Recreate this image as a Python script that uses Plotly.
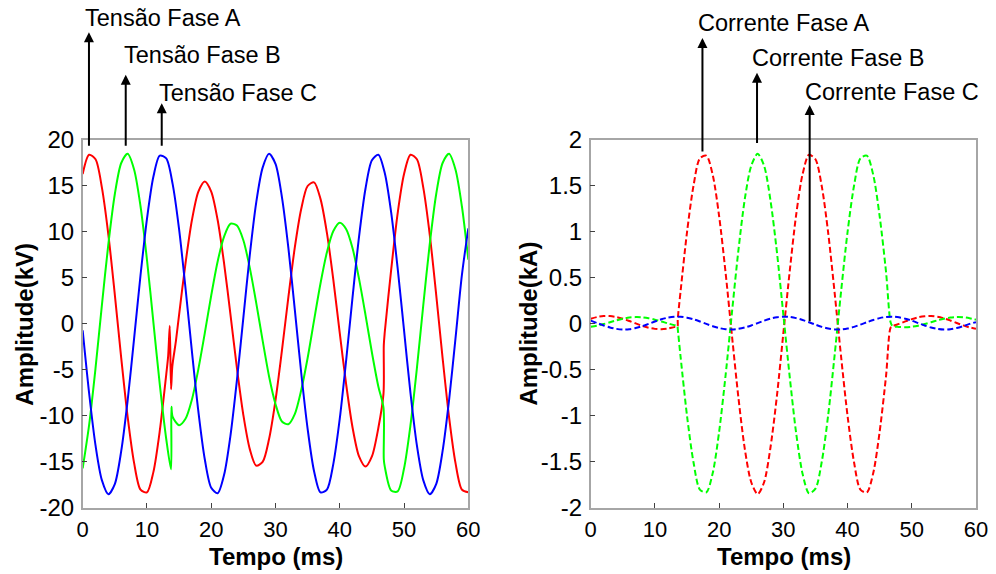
import plotly.graph_objects as go

# ---------------- Voltage (kV) ----------------
vA_t = [0,1,2,3,4,5,6,7,8,9,10,11,12,13,13.3,13.55,13.75,13.95,14.5,
        15,16,17,18,19,20,21,22,23,24,25,26,27,28,29,30,31,32,33,34,35,36,37,38,39,40,41,42,43,44,45,46,
        46.8,46.85,47,48,49,50,51,52,53,54,55,56,57,58,59,60]
vA = [16.3,18.4,17.9,14.8,9.7,3.2,-3.7,-10.1,-15.1,-18.0,-18.3,-16.1,-11.6,-5.5,-3.5,-0.2,-7.1,-4.6,-1.9,
      1.0,6.6,11.3,14.4,15.5,14.4,11.3,6.6,1.0,-4.8,-9.9,-13.6,-15.4,-15.0,-12.5,-8.3,-2.9,2.9,8.3,12.5,15.0,15.4,13.6,9.9,4.8,-1.0,-6.6,-11.3,-14.4,-15.5,-14.4,-11.3,
      -7.6,-2.3,-0.9,5.9,12.0,16.3,18.4,17.9,14.8,9.7,3.2,-3.7,-10.1,-15.1,-18.0,-18.3]

vB_t = [0,1,2,3,4,5,6,7,8,9,10,11,12,13,13.75,13.8,14,
        15,16,17,18,19,20,21,22,23,24,25,26,27,28,29,30,31,32,33,34,35,36,37,38,39,40,41,42,43,44,45,46,
        46.8,46.85,47,48,49,50,51,52,53,54,55,56,57,58,59,60]
vB = [-15.7,-11.0,-4.8,2.1,8.7,14.1,17.5,18.5,16.8,12.8,7.0,0.2,-6.6,-12.5,-15.8,-9.0,-10.1,
      -11.0,-10.3,-8.2,-4.9,-1.0,3.1,6.8,9.5,10.9,10.7,9.1,6.1,2.3,-1.8,-5.7,-8.7,-10.6,-10.9,-9.8,-7.2,-3.7,0.4,4.4,7.8,10.1,11.0,10.3,8.2,4.9,1.0,-3.1,-6.8,
      -9.1,-14.7,-15.5,-18.1,-18.2,-15.7,-11.0,-4.8,2.1,8.7,14.1,17.5,18.5,16.8,12.8,7.0]

vC_t = list(range(0, 61))
vC = [-0.7,-7.5,-13.2,-17.0,-18.5,-17.4,-13.8,-8.3,-1.6,5.3,11.4,16.0,18.3,18.0,15.2,10.3,3.9,-3.0,-9.5,-14.7,
      -17.8,-18.4,-16.4,-12.1,-6.1,0.7,7.5,13.2,17.0,18.5,17.4,13.8,8.3,1.6,-5.3,-11.4,-16.0,-18.3,-18.0,-15.2,
      -10.3,-3.9,3.0,9.5,14.7,17.8,18.4,16.4,12.1,6.1,-0.7,-7.5,-13.2,-17.0,-18.5,-17.4,-13.8,-8.3,-1.6,5.3,10.4]

# ---------------- Current (kA) ----------------
iA_t = [0,1,2,3,4,5,6,7,8,9,10,11,12,13,13.5,13.55,
        14,15,16,17,18,19,20,21,22,23,24,25,26,27,28,29,30,31,32,33,34,35,36,37,38,39,40,41,42,43,44,45,46,
        46.7,47,48,49,50,51,52,53,54,55,56,57,58,59,60]
iA = [0.057,0.076,0.086,0.086,0.076,0.057,0.033,0.006,-0.020,-0.041,-0.053,-0.057,-0.050,-0.034,-0.03,0.05,
      0.36,1.00,1.50,1.80,1.83,1.62,1.17,0.56,-0.13,-0.80,-1.36,-1.72,-1.85,-1.72,-1.34,-0.78,-0.10,0.58,1.19,1.63,1.84,1.79,1.49,0.98,0.33,-0.36,-1.00,-1.50,-1.80,-1.83,-1.62,-1.17,-0.56,
      -0.04,-0.024,0.001,0.028,0.053,0.073,0.084,0.087,0.079,0.062,0.038,0.011,-0.015,-0.037,-0.052]

iB_t = iA_t
iB = [-0.030,-0.018,-0.001,0.019,0.040,0.057,0.070,0.075,0.073,0.063,0.047,0.028,0.007,-0.012,-0.020,-0.05,
      -0.36,-1.00,-1.50,-1.80,-1.83,-1.62,-1.17,-0.56,0.13,0.80,1.36,1.72,1.85,1.72,1.34,0.78,0.10,-0.58,-1.19,-1.63,-1.84,-1.79,-1.49,-0.98,-0.33,0.36,1.00,1.50,1.80,1.83,1.62,1.17,0.56,
      0.02,-0.022,-0.032,-0.035,-0.030,-0.018,-0.001,0.019,0.040,0.057,0.070,0.075,0.073,0.063,0.047]

iC_t = list(range(0, 61))
iC = [0.036,0.010,-0.016,-0.038,-0.053,-0.060,-0.057,-0.044,-0.024,0.001,0.027,0.051,0.069,0.079,0.079,0.069,
      0.051,0.027,0.001,-0.024,-0.044,-0.057,-0.060,-0.053,-0.038,-0.016,0.010,0.036,0.058,0.073,0.080,0.077,
      0.064,0.044,0.019,-0.007,-0.031,-0.049,-0.059,-0.059,-0.049,-0.031,-0.007,0.019,0.044,0.064,0.077,0.080,
      0.073,0.058,0.036,0.010,-0.016,-0.038,-0.053,-0.060,-0.057,-0.044,-0.024,0.001,0.020]

# tick labels
x_ticks = [0, 10, 20, 30, 40, 50, 60]
x_ticktext = ["0", "10", "20", "30", "40", "50", "60"]
kv_ticks = [-20, -15, -10, -5, 0, 5, 10, 15, 20]
kv_ticktext = ["-20", "-15", "-10", "-5", "0", "5", "10", "15", "20"]
ka_ticks = [-2, -1.5, -1, -0.5, 0, 0.5, 1, 1.5, 2]
ka_ticktext = ["-2", "-1.5", "-1", "-0.5", "0", "0.5", "1", "1.5", "2"]

# axis titles
x_title = "Tempo (ms)"
kv_title = "Amplitude(kV)"
ka_title = "Amplitude(kA)"

# annotation labels (text x in data units, text y in paper fraction)
v_labels = ["Tensão Fase A", "Tensão Fase B", "Tensão Fase C"]
v_text_x = [0.05, 6.1, 11.55]
v_text_y = [0.968, 0.904, 0.838]
v_arrow_x = [0.98, 6.7, 12.3]
v_arrow_tip = [31.7, 27.1, 24.0]
v_arrow_tail = [19.2, 19.2, 19.2]

i_labels = ["Corrente Fase A", "Corrente Fase B", "Corrente Fase C"]
i_text_x = [16.4, 24.8, 33.0]
i_text_y = [0.960, 0.899, 0.840]
i_arrow_x = [17.4, 25.9, 34.1]
i_arrow_tip = [3.11, 2.73, 2.38]
i_arrow_tail = [1.86, 1.95, 0.014]

RED, GREEN, BLUE = "#ff0000", "#00ff00", "#0000ff"
FONT = "Liberation Sans, Arial, sans-serif"

fig = go.Figure()
for t, v, c in [(vA_t, vA, RED), (vB_t, vB, GREEN), (vC_t, vC, BLUE)]:
    fig.add_trace(go.Scatter(x=t, y=v, mode="lines", xaxis="x", yaxis="y",
                             line=dict(color=c, width=2, shape="spline", smoothing=0.8),
                             showlegend=False, hoverinfo="skip"))
for t, v, c in [(iA_t, iA, RED), (iB_t, iB, GREEN), (iC_t, iC, BLUE)]:
    fig.add_trace(go.Scatter(x=t, y=v, mode="lines", xaxis="x2", yaxis="y2",
                             line=dict(color=c, width=2, shape="spline", smoothing=0.8, dash="6px,3px"),
                             showlegend=False, hoverinfo="skip"))

label_font = dict(family=FONT, size=23.5, color="black")
title_font = dict(family=FONT, size=24, color="black")

ann = []
for i in range(3):
    ann.append(dict(xref="x", yref="paper", x=v_text_x[i], y=v_text_y[i], text=v_labels[i],
                    showarrow=False, xanchor="left", yanchor="middle", font=label_font))
    ann.append(dict(xref="x", yref="y", axref="x", ayref="y",
                    x=v_arrow_x[i], y=v_arrow_tip[i], ax=v_arrow_x[i], ay=v_arrow_tail[i],
                    text="", showarrow=True, arrowhead=2, arrowsize=1, arrowwidth=2, arrowcolor="black"))
    ann.append(dict(xref="x2", yref="paper", x=i_text_x[i], y=i_text_y[i], text=i_labels[i],
                    showarrow=False, xanchor="left", yanchor="middle", font=label_font))
    ann.append(dict(xref="x2", yref="y2", axref="x2", ayref="y2",
                    x=i_arrow_x[i], y=i_arrow_tip[i], ax=i_arrow_x[i], ay=i_arrow_tail[i],
                    text="", showarrow=True, arrowhead=2, arrowsize=1, arrowwidth=2, arrowcolor="black"))

# axis titles placed precisely
ann.append(dict(xref="paper", yref="paper", x=0.277, y=0.030, text="<b>" + x_title + "</b>",
                showarrow=False, xanchor="center", yanchor="middle", font=title_font))
ann.append(dict(xref="paper", yref="paper", x=0.787, y=0.030, text="<b>" + x_title + "</b>",
                showarrow=False, xanchor="center", yanchor="middle", font=title_font))
ann.append(dict(xref="paper", yref="paper", x=0.025, y=0.436, text="<b>" + kv_title + "</b>",
                textangle=-90, showarrow=False, xanchor="center", yanchor="middle", font=title_font))
ann.append(dict(xref="paper", yref="paper", x=0.531, y=0.436, text="<b>" + ka_title + "</b>",
                textangle=-90, showarrow=False, xanchor="center", yanchor="middle", font=title_font))

axis_common = dict(showline=True, mirror=True, linecolor="#a6a6a6", linewidth=1.5,
                   ticks="inside", ticklen=5, tickwidth=1, tickcolor="#404040",
                   showgrid=False, zeroline=False, automargin=False)
x_tickfont = dict(family=FONT, size=22, color="black")
y_tickfont = dict(family=FONT, size=24, color="black")

fig.update_layout(
    width=996, height=574, margin=dict(l=0, r=0, t=0, b=0),
    paper_bgcolor="white", plot_bgcolor="white",
    xaxis=dict(domain=[0.0830, 0.4702], range=[0, 60], tickvals=x_ticks, ticktext=x_ticktext,
               anchor="y", ticklabelstandoff=1, tickfont=x_tickfont, **axis_common),
    yaxis=dict(domain=[0.1150, 0.7561], range=[-20, 20], tickvals=kv_ticks, ticktext=kv_ticktext,
               anchor="x", ticklabelstandoff=2, tickfont=y_tickfont, **axis_common),
    xaxis2=dict(domain=[0.5931, 0.9799], range=[0, 60], tickvals=x_ticks, ticktext=x_ticktext,
                anchor="y2", ticklabelstandoff=1, tickfont=x_tickfont, **axis_common),
    yaxis2=dict(domain=[0.1150, 0.7561], range=[-2, 2], tickvals=ka_ticks, ticktext=ka_ticktext,
                anchor="x2", ticklabelstandoff=2, tickfont=y_tickfont, **axis_common),
    annotations=ann,
)

fig.write_html("out.html")
